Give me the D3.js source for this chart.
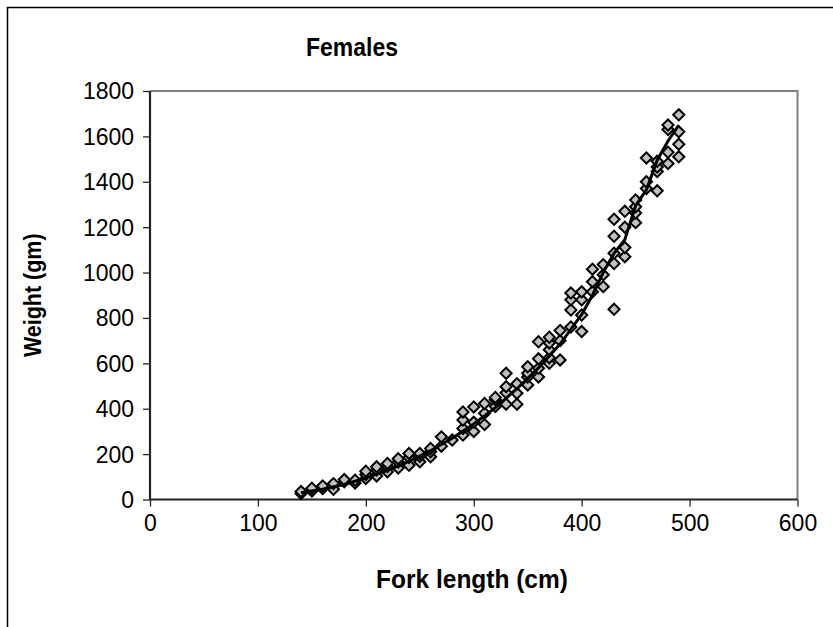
<!DOCTYPE html>
<html>
<head>
<meta charset="utf-8">
<script src="https://cdn.jsdelivr.net/npm/d3@7"></script>
<style>
  html, body { margin: 0; padding: 0; background: #fff; }
  svg { display: block; font-family: Arial, "Liberation Sans", sans-serif; }
</style>
</head>
<body>
<svg id="chart" width="833" height="627"></svg>
<script>
// ---- data ----
const lengths = [140,150,160,170,180,190,200,210,220,230,240,250,260,270,280,290,300,310,320,330,340,350,360,370,380,390,400,410,420,430,440,450,460,470,480,490];
const weights = [
  [26, 35], [37, 50], [48, 60], [45, 70], [78, 88], [73, 85],
  [93, 110, 125], [104, 130, 144], [122, 145, 159], [139, 165, 180],
  [151, 185, 203], [166, 190, 203], [188, 210, 225], [235, 276], [262],
  [284, 313, 350, 386], [300, 340, 408], [330, 380, 423], [410, 440, 450],
  [420, 470, 497, 556], [420, 468, 510], [505, 540, 556, 585],
  [540, 578, 620, 695], [600, 625, 660, 690, 715], [615, 700, 745],
  [760, 835, 880, 910], [740, 813, 880, 915], [915, 960, 1015],
  [938, 990, 1035], [838, 1040, 1085, 1160, 1235], [1070, 1110, 1200, 1270],
  [1220, 1262, 1290, 1320], [1370, 1400, 1505], [1360, 1445, 1465, 1490],
  [1480, 1530, 1630, 1650], [1510, 1565, 1620, 1695]
];
const trendLengths = [140,160,180,200,220,240,260,280,300,320,340,360,380,400,410,420,430,440,450,460,470,480,490];
const trendWeights = [30,45,66,95,128,168,215,270,333,405,488,580,685,815,900,1000,1085,1145,1295,1365,1495,1580,1650];
const xTicks = [0,100,200,300,400,500,600];
const yTicks = [0,200,400,600,800,1000,1200,1400,1600,1800];

const points = [];
lengths.forEach((L, i) => weights[i].forEach(w => points.push({x: L, y: w})));
const trend = trendLengths.map((L, i) => ({x: L, y: trendWeights[i]}));

// ---- layout ----
const svg = d3.select("#chart");
const pL = 150, pR = 797.5, pT = 91, pB = 499.5;
const x = d3.scaleLinear().domain([0, 600]).range([pL, pR]);
const y = d3.scaleLinear().domain([0, 1800]).range([pB, pT]);
const vs = 1.08; // slight vertical stretch of the lettering

// outer frame
svg.append("rect").attr("x", 7.5).attr("y", 7.5).attr("width", 1000).attr("height", 1000)
  .attr("fill", "none").attr("stroke", "#000").attr("stroke-width", 1.5);

// title
svg.append("text").attr("transform", `translate(352,56) scale(1,1.15)`).attr("text-anchor", "middle")
  .attr("font-size", 23).attr("font-weight", "bold").text("Females");

// plot border (top/right gray)
svg.append("path")
  .attr("d", `M${pL},${pT}H${pR}V${pB}`)
  .attr("fill", "none").attr("stroke", "#808080").attr("stroke-width", 2);

// axes
const xAxis = svg.append("g").attr("transform", `translate(0,${pB})`)
  .call(d3.axisBottom(x).tickValues(xTicks).tickSize(7).tickPadding(6).tickFormat(d3.format("d")));
const yAxis = svg.append("g").attr("transform", `translate(${pL},0)`)
  .call(d3.axisLeft(y).tickValues(yTicks).tickSize(7).tickPadding(9).tickFormat(d3.format("d")));
[xAxis, yAxis].forEach(g => {
  g.select(".domain").attr("stroke", "#222").attr("stroke-width", 2.2);
  g.selectAll(".tick line").attr("stroke", "#222").attr("stroke-width", 1.3);
  g.selectAll(".tick text").attr("font-size", 23).attr("fill", "#000")
    .attr("font-family", "Arial, 'Liberation Sans', sans-serif")
    .attr("transform", `scale(1,${vs})`);
});
xAxis.selectAll(".domain").attr("d", `M${pL},0H${pR}`);
yAxis.selectAll(".domain").attr("d", `M0,${pB}V${pT}`);

// axis titles
svg.append("text").attr("transform", `translate(472,588) scale(1,${vs})`).attr("text-anchor", "middle")
  .attr("font-size", 24.5).attr("font-weight", "bold").text("Fork length (cm)");
svg.append("text").attr("transform", `translate(41,${(pT + pB) / 2}) rotate(-90) scale(1,${vs})`)
  .attr("text-anchor", "middle").attr("font-size", 21.5).attr("font-weight", "bold").text("Weight (gm)");

// markers
const sym = d3.symbol().type(d3.symbolSquare).size(62);
svg.append("g").selectAll("path").data(points).join("path")
  .attr("d", sym)
  .attr("transform", d => `translate(${x(d.x)},${y(d.y)}) rotate(45)`)
  .attr("fill", "#c0c0c0").attr("stroke", "#000").attr("stroke-width", 2);

// trend line
const line = d3.line().x(d => x(d.x)).y(d => y(d.y));
svg.append("path").datum(trend).attr("d", line)
  .attr("fill", "none").attr("stroke", "#000").attr("stroke-width", 3);
</script>
</body>
</html>
